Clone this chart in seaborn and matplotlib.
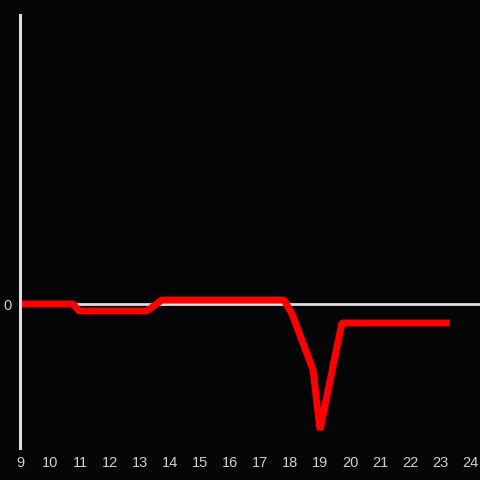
import pandas as pd
import matplotlib.pyplot as plt
import seaborn as sns

# hour of day vs. value (zero baseline)
hours = [9.0, 10.77, 10.97, 13.23, 13.73, 17.8, 18.07, 18.77, 19.0, 19.73, 23.33]
values = [0.0, 0.0, -0.7, -0.7, 0.4, 0.4, -1.0, -6.6, -12.6, -1.9, -1.9]
xticks = list(range(9, 25))

sample = pd.DataFrame({'hour': hours, 'value': values})

bg = '#050407'
sns.set_style('dark')
plt.rcParams['font.family'] = ['Liberation Sans', 'DejaVu Sans']

fig = plt.figure(figsize=(4.8, 4.8), dpi=100, facecolor=bg)
ax = fig.add_axes([20/480, 32/480, 460/480, 433/480], facecolor=bg)

ax.axhline(0, color='#dddddd', lw=2, zorder=1)
sns.lineplot(x='hour', y='value', data=sample, color='#ff0000', lw=5,
             sort=False, ax=ax, zorder=2, solid_joinstyle='bevel',
             solid_capstyle='butt')

ax.set_xlim(9, 9 + 460/30)
ax.set_ylim(-14.4, 28.9)
ax.set_xticks(xticks)
ax.set_yticks([0])
ax.tick_params(colors='#d0d0d0', labelsize=10.5, length=0, pad=6)
ax.set_xlabel('')
ax.set_ylabel('')
ax.grid(False)
for s in ['top', 'right', 'bottom']:
    ax.spines[s].set_visible(False)
ax.spines['left'].set_color('#dddddd')
ax.spines['left'].set_linewidth(2.2)

plt.savefig('out.png', dpi=100, facecolor=bg)
